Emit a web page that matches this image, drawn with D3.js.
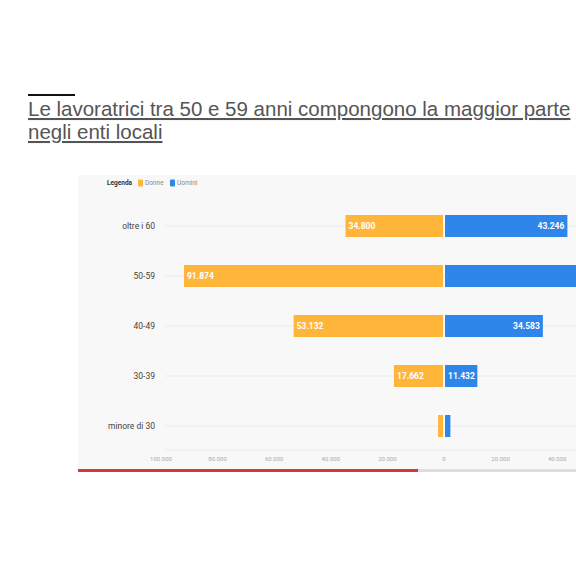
<!DOCTYPE html>
<html><head><meta charset="utf-8">
<script src="https://d3js.org/d3.v7.min.js"></script>
<style>
body{margin:0;width:576px;height:576px;overflow:hidden;background:#fff;font-family:Roboto,sans-serif}
</style></head><body>
<svg id="c" width="576" height="576"></svg>
<script>
const categories = ['oltre i 60', '50-59', '40-49', '30-39', 'minore di 30'];
const donne = [34800, 91874, 53132, 17662, 2100];
const uomini = [43246, 56000, 34583, 11432, 1900];
const donneLabels = ['34.800', '91.874', '53.132', '17.662', ''];
const uominiLabels = ['43.246', '', '34.583', '11.432', ''];
const ticks = [-100000, -80000, -60000, -40000, -20000, 0, 20000, 40000];

const svg = d3.select('#c');
const fmt = v => d3.format(',')(Math.abs(v)).replace(/,/g, '.');

// title
svg.append('rect').attr('x', 28).attr('y', 94).attr('width', 47).attr('height', 2).attr('fill', '#111');
const title = svg.append('text').attr('fill', '#555').style('font-family', 'Liberation Sans, Arial, sans-serif')
  .style('font-size', '20.5px').style('text-decoration', 'underline');
title.append('tspan').attr('x', 28).attr('y', 116).text('Le lavoratrici tra 50 e 59 anni compongono la maggior parte');
title.append('tspan').attr('x', 28).attr('y', 139).text('negli enti locali');

// panel
svg.append('rect').attr('x', 78).attr('y', 175).attr('width', 498).attr('height', 295).attr('fill', '#f8f8f8');
svg.append('rect').attr('x', 78).attr('y', 469).attr('width', 498).attr('height', 3).attr('fill', '#ddd');
svg.append('rect').attr('x', 78).attr('y', 469).attr('width', 340).attr('height', 3).attr('fill', '#d23a3a');

const x = d3.scaleLinear().domain([-100000, 0]).range([161, 444]);
const y = d3.scaleBand().domain(categories).range([201, 451]).paddingInner(0.56).paddingOuter(0.28);

// grid
svg.append('g').selectAll('line').data(categories).join('line')
  .attr('x1', 165).attr('x2', 576)
  .attr('y1', d => y(d) + y.bandwidth() / 2).attr('y2', d => y(d) + y.bandwidth() / 2)
  .attr('stroke', '#eaeaea');
svg.append('line').attr('x1', 165).attr('x2', 576).attr('y1', 450).attr('y2', 450).attr('stroke', '#eaeaea');

// axis
svg.append('g').selectAll('text').data(ticks).join('text')
  .attr('x', d => x(d)).attr('y', 461).attr('text-anchor', 'middle')
  .attr('fill', '#aaa').style('font-size', '6px').text(fmt);

// category labels
svg.append('g').selectAll('text').data(categories).join('text')
  .attr('x', 155).attr('y', d => y(d) + y.bandwidth() / 2).attr('dy', '0.35em')
  .attr('text-anchor', 'end').attr('fill', '#444').style('font-size', '8.5px').text(d => d);

// bars
const g = svg.append('g');
g.selectAll('.d').data(categories).join('rect')
  .attr('x', (d, i) => x(-donne[i])).attr('y', d => y(d))
  .attr('width', (d, i) => x(0) - x(-donne[i]) - 1).attr('height', y.bandwidth())
  .attr('fill', '#ffb53a');
g.selectAll('.u').data(categories).join('rect')
  .attr('x', x(0) + 1).attr('y', d => y(d))
  .attr('width', (d, i) => x(uomini[i] - 100000) - x(-100000)).attr('height', y.bandwidth())
  .attr('fill', '#2f86ea');

g.selectAll('.dl').data(categories).join('text')
  .attr('x', (d, i) => x(-donne[i]) + 3).attr('y', d => y(d) + y.bandwidth() / 2).attr('dy', '0.35em')
  .attr('fill', '#fff').style('font-size', '8.5px').style('font-weight', 'bold')
  .text((d, i) => donneLabels[i]);
g.selectAll('.ul').data(categories).join('text')
  .attr('x', (d, i) => x(0) + 1 + x(uomini[i] - 100000) - x(-100000) - 3)
  .attr('text-anchor', (d, i) => uomini[i] < 15000 ? 'start' : 'end')
  .attr('dx', (d, i) => uomini[i] < 15000 ? -(x(uomini[i] - 100000) - x(-100000)) + 6 : 0)
  .attr('y', d => y(d) + y.bandwidth() / 2).attr('dy', '0.35em')
  .attr('fill', '#fff').style('font-size', '8.5px').style('font-weight', 'bold')
  .text((d, i) => uominiLabels[i]);

// legend
const lg = svg.append('g').attr('transform', 'translate(107,183)').style('font-size', '6.5px');
lg.append('text').attr('y', 2).attr('fill', '#333').style('font-weight', 'bold').text('Legenda');
lg.append('rect').attr('x', 31).attr('y', -3.5).attr('width', 5).attr('height', 7).attr('rx', 1).attr('fill', '#ffb53a');
lg.append('text').attr('x', 38).attr('y', 2).attr('fill', '#888').text('Donne');
lg.append('rect').attr('x', 63).attr('y', -3.5).attr('width', 5).attr('height', 7).attr('rx', 1).attr('fill', '#2f86ea');
lg.append('text').attr('x', 70).attr('y', 2).attr('fill', '#888').text('Uomini');
</script></body></html>
